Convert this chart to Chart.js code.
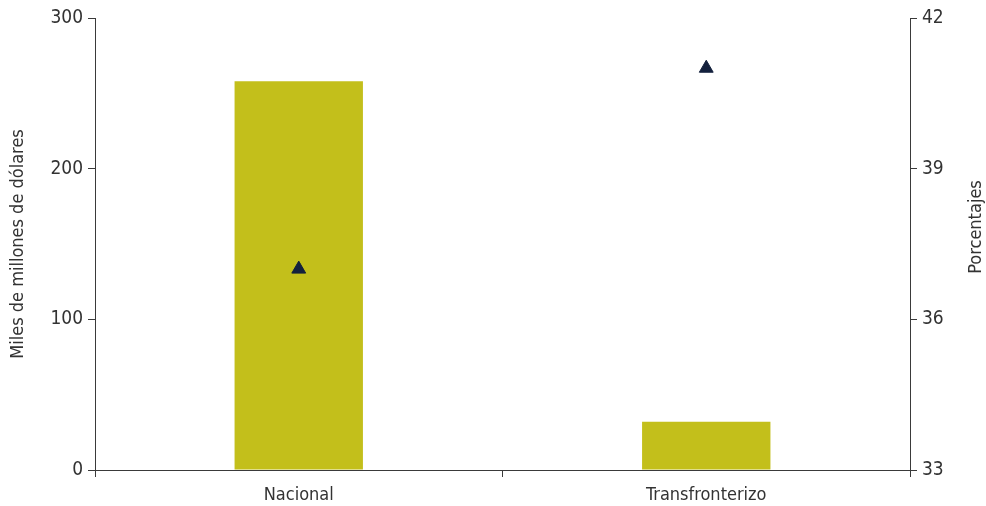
<meta charset="utf-8">
<script src="https://cdn.jsdelivr.net/npm/chart.js"></script>
<style>
  html, body { margin: 0; padding: 0; background: #fff; }
  #wrap { width: 986px; height: 506px; }
</style>
<div id="wrap"><canvas id="chart"></canvas></div>
<script>
const categories = ["Nacional", "Transfronterizo"];
const montos = [258, 32];          // miles de millones de dólares
const porcentajes = [37.0, 41.0];  // porcentajes
const leftTicks = [0, 100, 200, 300];
const rightTicks = [33, 36, 39, 42];

const fontFam = '"Liberation Sans Narrow", "DejaVu Sans Condensed", "Roboto", sans-serif';
const axisColor = '#3a3a3a';
const textColor = '#333333';

// right title reads bottom-to-top like the left one
const rightTitle = {
    id: 'rightTitle',
    afterDraw(chart) {
        const ctx = chart.ctx, a = chart.chartArea;
        ctx.save();
        ctx.translate(976, (a.top + a.bottom) / 2 - 17);
        ctx.rotate(-Math.PI / 2);
        ctx.fillStyle = textColor;
        ctx.font = '18px ' + fontFam;
        ctx.textAlign = 'center';
        ctx.textBaseline = 'middle';
        ctx.fillText('Porcentajes', 0, 0);
        ctx.restore();
    }
};

new Chart(document.getElementById('chart'), {
    data: {
        labels: categories,
        datasets: [{
            type: 'bar',
            data: montos,
            yAxisID: 'y',
            backgroundColor: '#c3bf1b',
            categoryPercentage: 1,
            barPercentage: 0.315,
            order: 2
        }, {
            type: 'line',
            data: porcentajes,
            yAxisID: 'y1',
            showLine: false,
            pointStyle: 'triangle',
            pointRadius: 8,
            pointHoverRadius: 8,
            backgroundColor: '#14213d',
            borderColor: '#14213d',
            borderWidth: 1,
            order: 1
        }]
    },
    options: {
        responsive: true,
        maintainAspectRatio: false,
        animation: false,
        layout: { padding: { top: 18, left: 8, right: 0, bottom: 0 } },
        plugins: { legend: { display: false }, tooltip: { enabled: false } },
        scales: {
            x: {
                offset: true,
                grid: { display: true, offset: true, drawOnChartArea: false, tickLength: 7, color: axisColor },
                border: { color: axisColor },
                ticks: { color: textColor, font: { family: fontFam, size: 18 }, padding: 8 },
                afterFit: s => { s.height = 36; }
            },
            y: {
                position: 'left',
                min: 0, max: 300,
                afterBuildTicks: s => { s.ticks = leftTicks.map(v => ({ value: v })); },
                grid: { drawOnChartArea: false, tickLength: 7, color: axisColor },
                border: { color: axisColor },
                ticks: { color: textColor, font: { family: fontFam, size: 19 }, padding: 5 },
                title: { display: true, text: 'Miles de millones de dólares', color: textColor, font: { family: fontFam, size: 18 }, padding: 0 },
                afterFit: s => { s.width = 87; }
            },
            y1: {
                position: 'right',
                min: 33, max: 42,
                afterBuildTicks: s => { s.ticks = rightTicks.map(v => ({ value: v })); },
                grid: { drawOnChartArea: false, tickLength: 7, color: axisColor },
                border: { color: axisColor },
                ticks: { color: textColor, font: { family: fontFam, size: 19 }, padding: 5 },
                afterFit: s => { s.width = 76; }
            }
        }
    },
    plugins: [rightTitle]
});
</script>
